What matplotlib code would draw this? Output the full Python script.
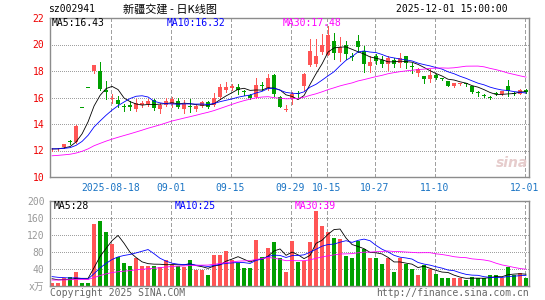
import numpy as np
import pandas as pd
import matplotlib
matplotlib.use("Agg")
import matplotlib.pyplot as plt

plt.rcParams['font.family'] = ['DejaVu Sans Mono', 'Noto Sans CJK SC']

# ---- 数据（从图上读取，08-04 ~ 12-01 共 80 个交易日）----
tick_idx = [10, 20, 30, 40, 46, 54, 64, 79]
tick_labels = ["2025-08-18", "09-01", "09-15", "09-29", "10-15", "10-27", "11-10", "12-01"]

opens = [12.08, 12.08, 12.25, 12.70, 12.65, 15.20, 16.72, 18.03, 18.00, 16.55,
         15.92, 15.80, 15.30, 15.45, 15.10, 15.40, 15.50, 15.80, 15.10, 15.45,
         15.48, 15.75, 15.13, 15.30, 15.13, 15.38, 15.65, 15.45, 16.05, 16.60,
         16.70, 16.78, 16.45, 16.20, 16.02, 16.92, 16.70, 17.72, 16.05, 15.08,
         15.95, 16.30, 16.85, 18.45, 18.50, 19.40, 19.20, 20.25, 19.35, 19.98,
         19.12, 20.28, 19.50, 18.40, 19.10, 18.85, 18.50, 18.80, 18.60, 19.12,
         18.35, 17.82, 17.62, 17.37, 17.72, 17.42, 17.25, 16.85, 17.03, 17.02,
         16.87, 16.35, 16.17, 16.00, 16.27, 16.28, 16.90, 16.30, 16.30, 16.55]
closes = [12.12, 12.15, 12.48, 12.64, 13.85, 15.18, 16.70, 18.45, 16.62, 16.42,
          16.00, 15.50, 15.26, 15.25, 15.55, 15.57, 15.75, 15.20, 15.45, 15.75,
          15.88, 15.28, 15.50, 15.26, 15.38, 15.68, 15.32, 16.00, 16.80, 16.80,
          16.90, 16.58, 16.40, 16.00, 16.95, 16.88, 17.45, 16.25, 15.30, 15.12,
          16.30, 16.25, 17.78, 19.50, 19.15, 20.00, 20.70, 19.35, 19.80, 19.25,
          19.08, 19.78, 18.50, 18.70, 18.75, 18.55, 18.95, 18.52, 18.95, 18.58,
          18.32, 18.12, 17.38, 17.72, 17.50, 17.40, 16.90, 17.08, 17.05, 17.00,
          16.45, 16.32, 16.15, 15.98, 16.25, 16.48, 16.50, 16.28, 16.55, 16.40]
highs = [12.20, 12.20, 12.50, 12.82, 13.90, 15.20, 16.72, 18.47, 18.70, 17.25,
         16.25, 16.10, 15.50, 15.70, 15.85, 15.75, 15.85, 15.85, 15.60, 16.00,
         16.05, 15.95, 15.80, 15.85, 15.50, 15.75, 15.70, 16.35, 17.00, 17.20,
         17.00, 17.05, 16.60, 16.30, 17.45, 17.15, 17.75, 17.80, 16.10, 15.40,
         16.45, 16.50, 17.85, 20.45, 20.45, 20.80, 21.40, 20.85, 20.60, 20.30,
         19.35, 20.75, 19.90, 19.10, 19.30, 19.10, 19.10, 18.95, 19.35, 19.15,
         18.58, 18.20, 17.65, 18.13, 17.75, 17.50, 17.27, 17.10, 17.10, 17.10,
         16.87, 16.50, 16.30, 16.10, 16.40, 16.50, 17.30, 16.40, 16.65, 16.65]
lows = [11.95, 12.05, 12.20, 12.50, 12.60, 15.18, 16.70, 17.83, 16.55, 15.90,
        15.55, 15.30, 14.95, 15.05, 15.00, 15.30, 15.35, 15.05, 14.80, 15.35,
        15.30, 15.20, 14.80, 14.90, 15.00, 15.30, 15.20, 15.35, 15.85, 16.40,
        16.60, 16.30, 16.20, 15.85, 15.95, 16.60, 16.60, 16.10, 15.25, 15.00,
        15.50, 16.05, 16.60, 18.40, 18.40, 19.30, 19.20, 18.90, 18.75, 18.90,
        18.80, 19.40, 17.90, 17.90, 18.50, 18.30, 18.10, 18.30, 18.30, 18.20,
        17.82, 17.60, 17.12, 17.20, 17.40, 17.30, 16.85, 16.82, 16.95, 16.90,
        16.31, 16.15, 16.05, 15.90, 16.20, 16.20, 16.10, 16.20, 16.25, 16.35]
volumes = [8, 8, 20, 22, 32, 8, 8, 147, 152, 128,
           99, 69, 54, 46, 67, 48, 48, 48, 45, 61,
           50, 46, 45, 61, 38, 37, 27, 73, 73, 82,
           62, 55, 42, 42, 109, 68, 89, 104, 66, 34,
           106, 57, 59, 104, 176, 142, 128, 114, 110, 70,
           66, 105, 88, 66, 66, 52, 65, 34, 66, 52,
           40, 25, 50, 41, 28, 20, 20, 19, 18, 13,
           22, 20, 18, 26, 25, 20, 44, 25, 30, 20]

# 窗口之前的历史（只用于计算均线起点）
pre_close = [11.20, 11.25, 11.30, 11.20, 11.15, 11.25, 11.30, 11.35, 11.30, 11.40,
             11.35, 11.30, 11.40, 11.45, 11.40, 11.35, 11.40, 11.50, 11.45, 11.50,
             12.10, 12.15, 12.10, 12.12, 12.18, 12.10, 12.14, 12.12, 12.10]
pre_vol = [10, 9, 11, 10, 12, 9, 10, 11, 10, 9,
           10, 12, 10, 9, 11, 10, 10, 9, 11, 10,
           25, 28, 30, 26, 27, 20, 18, 19, 20]


def moving_avg(hist, vals, n):
    s = pd.Series(list(hist) + list(vals), dtype=float)
    return s.rolling(n).mean().to_numpy()[len(hist):]


RED = "#ff5555"
GREEN = "#00a000"
GRID = "#a0a0a0"
BORDER = "#8c8c8c"
MA_COLORS = {5: "black", 10: "#0000ff", 30: "#ff00ff"}
LW = 0.7   # 网格/影线，约 1 像素
MA_LW = 0.6

x = np.arange(len(closes))
o = np.array(opens)
c = np.array(closes)
up = c >= o
colors = [RED if u else GREEN for u in up]

W, H = 545, 300
fig = plt.figure(figsize=(W / 100, H / 100), dpi=100)
fig.patch.set_facecolor("white")


def rect(l, t, r, b):
    return [l / W, 1 - b / H, (r - l) / W, (b - t) / H]


def put(px, py, s, **kw):
    fig.text(px / W, 1 - py / H, s, va="center", **kw)


ax = fig.add_axes(rect(50, 18, 529, 177))
axv = fig.add_axes(rect(50, 201, 529, 286))

for a in (ax, axv):
    for sp in a.spines.values():
        sp.set_color(BORDER)
        sp.set_linewidth(1.0)
    a.set_xlim(-0.35, 79.5)
    for t in tick_idx:
        a.axvline(t - 0.25, color=GRID, ls=(0, (4, 3)), lw=LW, zorder=1,
                  antialiased=False)

# ---- K线 ----
ax.set_ylim(10, 22)
for yv in [12, 14, 16, 18, 20]:
    ax.axhline(yv, color=GRID, ls=(0, (1, 2)), lw=LW, zorder=1, antialiased=False)
ax.vlines(x, lows, highs, colors=colors, lw=LW, zorder=2, antialiased=False)
body_h = np.maximum(np.abs(c - o), 0.07)
ax.bar(x, body_h, bottom=np.minimum(o, c), width=0.72, color=colors,
       linewidth=0, zorder=3)
for n in (5, 10, 30):
    ax.plot(x, moving_avg(pre_close, closes, n), color=MA_COLORS[n], lw=MA_LW,
            zorder=4)

ax.set_yticks([10, 12, 14, 16, 18, 20, 22])
ax.tick_params(axis="y", length=0, pad=4, labelcolor="#ee0000", labelsize=7)
ax.set_xticks([t - 0.25 for t in tick_idx])
ax.set_xticklabels(tick_labels)
ax.tick_params(axis="x", length=0, pad=4, labelcolor="#1a74c4", labelsize=7)

# ---- 成交量 ----
axv.set_ylim(0, 200)
for yv in [40, 80, 120, 160]:
    axv.axhline(yv, color=GRID, ls=(0, (1, 2)), lw=LW, zorder=1, antialiased=False)
axv.bar(x, volumes, width=0.8, color=colors, linewidth=0, zorder=2)
for n in (5, 10, 30):
    axv.plot(x, moving_avg(pre_vol, volumes, n), color=MA_COLORS[n], lw=MA_LW,
             zorder=4)
axv.set_yticks([0, 40, 80, 120, 160, 200])
axv.set_yticklabels(["x万", "40", "80", "120", "160", "200"])
axv.tick_params(axis="y", length=0, pad=4, labelcolor="#999999", labelsize=7)
axv.set_xticks([])

# ---- 文字 ----
put(48, 9, "sz002941", fontsize=7, color="black")
put(170, 9, "新疆交建 - 日K线图", fontsize=8, color="black", ha="center",
    family=["Noto Sans CJK SC", "DejaVu Sans"])
put(508, 9, "2025-12-01 15:00:00", fontsize=7, color="black", ha="right")

put(52, 23.5, "MA5:16.43", fontsize=7, color="black")
put(167, 23.5, "MA10:16.32", fontsize=7, color=MA_COLORS[10])
put(283, 23.5, "MA30:17.48", fontsize=7, color=MA_COLORS[30])

put(54, 206, "MA5:28", fontsize=7, color="black")
put(175, 206, "MA10:25", fontsize=7, color=MA_COLORS[10])
put(295, 206, "MA30:39", fontsize=7, color=MA_COLORS[30])

put(50, 292.5, "Copyright 2025 SINA.COM", fontsize=7, color="#666666")
put(529, 292.5, "http://finance.sina.com.cn", fontsize=7, color="#666666", ha="right")

put(512, 163, "sina", fontsize=10, color="#e6cccc", ha="center",
    style="italic", weight="bold", family="DejaVu Sans")

fig.savefig("out.png", dpi=100, facecolor="white")
